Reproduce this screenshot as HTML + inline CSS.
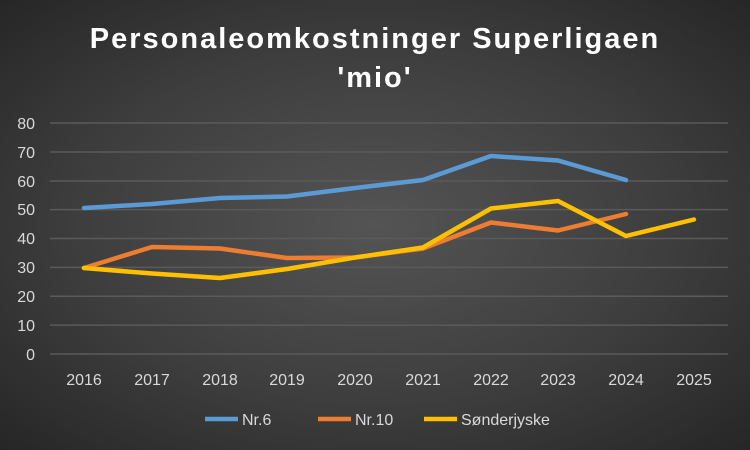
<!DOCTYPE html>
<html><head><meta charset="utf-8"><style>
html,body{margin:0;padding:0}
body{width:750px;height:450px;overflow:hidden;background:radial-gradient(ellipse at 50% 50%,#545454 0%,#3e3e3e 55%,#262626 100%);font-family:"Liberation Sans",sans-serif}
</style></head><body>
<svg width="750" height="450" xmlns="http://www.w3.org/2000/svg" style="position:absolute;left:0;top:0">
<g font-family="Liberation Sans, sans-serif" font-weight="bold" font-size="29" fill="#fff" text-anchor="middle" letter-spacing="2">
<text x="375" y="48">Personaleomkostninger Superligaen</text>
<text x="375" y="87">'mio'</text>
</g>
<g stroke="#5a5a5a" stroke-width="1.5">
<line x1="50" x2="728" y1="123" y2="123"/><line x1="50" x2="728" y1="152" y2="152"/>
<line x1="50" x2="728" y1="181" y2="181"/><line x1="50" x2="728" y1="209.6" y2="209.6"/>
<line x1="50" x2="728" y1="238.5" y2="238.5"/><line x1="50" x2="728" y1="267.4" y2="267.4"/>
<line x1="50" x2="728" y1="296.3" y2="296.3"/><line x1="50" x2="728" y1="325.1" y2="325.1"/>
<line x1="50" x2="728" y1="354" y2="354"/>
</g>
<g font-size="16" fill="#d9d9d9" text-anchor="end">
<text x="35" y="129">80</text><text x="35" y="158">70</text><text x="35" y="187">60</text><text x="35" y="215">50</text><text x="35" y="244">40</text><text x="35" y="273">30</text><text x="35" y="302">20</text><text x="35" y="331">10</text><text x="35" y="360">0</text>
</g>
<g font-size="16" fill="#d9d9d9" text-anchor="middle">
<text x="84" y="385">2016</text><text x="152" y="385">2017</text><text x="220" y="385">2018</text><text x="287" y="385">2019</text><text x="355" y="385">2020</text><text x="423" y="385">2021</text><text x="491" y="385">2022</text><text x="558" y="385">2023</text><text x="626" y="385">2024</text><text x="694" y="385">2025</text>
</g>
<g fill="none" stroke-width="4.5" stroke-linejoin="round" stroke-linecap="round">
<polyline stroke="#5b9bd5" points="84,208 152,204 220,198 287,196.5 355,188 423,180 491,156 558,160.5 626,180"/>
<polyline stroke="#ed7d31" points="84,268 152,247 220,248.5 287,258 355,257.5 423,248.5 491,222.5 558,230.5 626,214"/>
<polyline stroke="#ffc000" points="84,268 152,273.5 220,278 287,269 355,257.5 423,247.5 491,208.5 558,201 626,236 694,219.5"/>
</g>
<g font-size="16" fill="#d9d9d9">
<line x1="205" x2="238" y1="419" y2="419" stroke="#5b9bd5" stroke-width="4.5"/><text x="242" y="425">Nr.6</text>
<line x1="318" x2="351" y1="419" y2="419" stroke="#ed7d31" stroke-width="4.5"/><text x="355" y="425">Nr.10</text>
<line x1="424" x2="457" y1="419" y2="419" stroke="#ffc000" stroke-width="4.5"/><text x="461" y="425">Sønderjyske</text>
</g>
</svg>
</body></html>
